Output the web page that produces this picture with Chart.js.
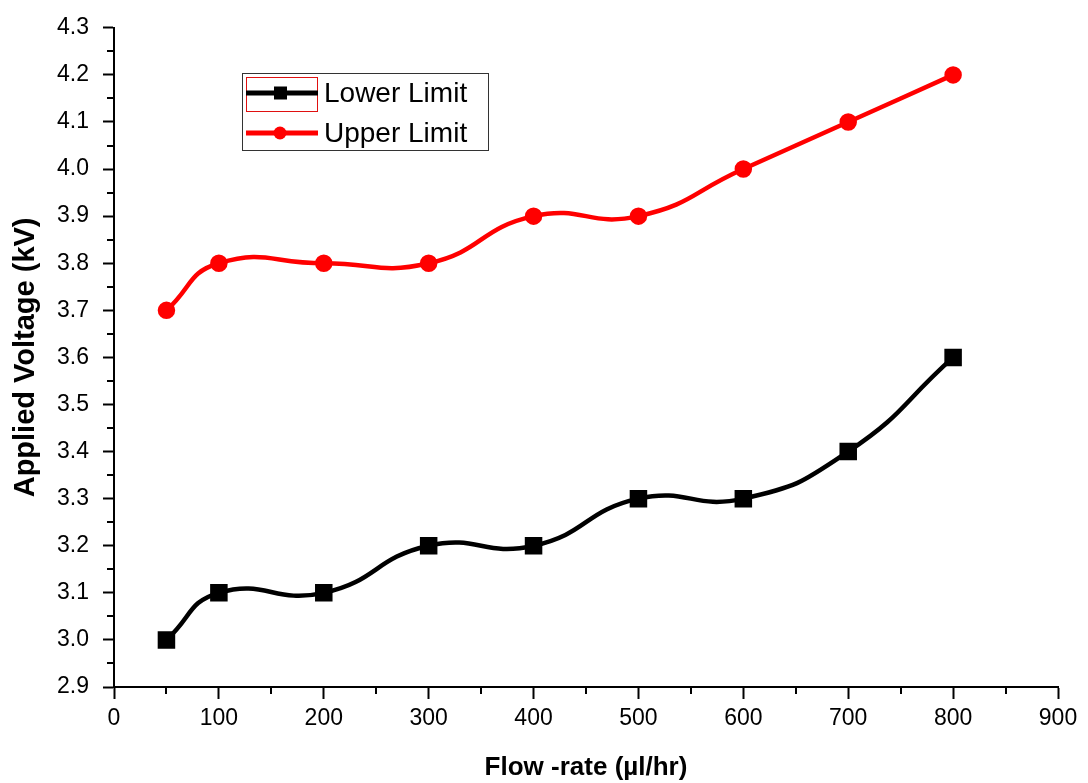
<!DOCTYPE html>
<html>
<head>
<meta charset="utf-8">
<script src="https://cdn.jsdelivr.net/npm/chart.js@4"></script>
<style>
  body { margin: 0; background: #fff; }
  #wrap { width: 1088px; height: 783px; }
</style>
</head>
<body>
<div id="wrap"><canvas id="voltageChart" width="1088" height="783"></canvas></div>
<script>
const flowRates = [50, 100, 200, 300, 400, 500, 600, 700, 800];
const lowerLimit = [3.0, 3.1, 3.1, 3.2, 3.2, 3.3, 3.3, 3.4, 3.6];
const upperLimit = [3.7, 3.8, 3.8, 3.8, 3.9, 3.9, 4.0, 4.1, 4.2];
const seriesNames = ["Lower Limit", "Upper Limit"];
const xTitle = "Flow -rate (µl/hr)";
const yTitle = "Applied Voltage (kV)";

const FONT = "Arial, 'Liberation Sans', sans-serif";

const pairs = (ys) => flowRates.map((x, i) => ({ x: x, y: ys[i] }));

// short minor ticks between the labelled ones
const minorTicks = {
  id: "minorTicks",
  afterDraw(chart) {
    const ctx = chart.ctx;
    const xs = chart.scales.x, ys = chart.scales.y;
    ctx.save();
    ctx.strokeStyle = "#000";
    ctx.lineWidth = 2;
    for (let v = 50; v < 900; v += 100) {
      const px = Math.round(xs.getPixelForValue(v));
      ctx.beginPath();
      ctx.moveTo(px, xs.top);
      ctx.lineTo(px, xs.top + 7);
      ctx.stroke();
    }
    for (let v = 2.95; v < 4.3; v += 0.1) {
      const py = Math.round(ys.getPixelForValue(v));
      ctx.beginPath();
      ctx.moveTo(ys.right, py);
      ctx.lineTo(ys.right - 7, py);
      ctx.stroke();
    }
    ctx.restore();
  },
};

// legend box drawn inside the plot, like the original figure
const boxLegend = {
  id: "boxLegend",
  afterDraw(chart) {
    const ctx = chart.ctx;
    const sets = chart.data.datasets;
    ctx.save();
    ctx.strokeStyle = "#333";
    ctx.lineWidth = 1;
    ctx.strokeRect(242.5, 73.5, 246, 77);
    ctx.strokeStyle = "#e01010";
    ctx.strokeRect(246.5, 77.5, 71, 34);
    const rows = [93, 133];
    sets.forEach((ds, i) => {
      const y = rows[i];
      ctx.strokeStyle = ds.borderColor;
      ctx.lineWidth = 5;
      ctx.beginPath();
      ctx.moveTo(246, y);
      ctx.lineTo(318, y);
      ctx.stroke();
      ctx.fillStyle = ds.backgroundColor;
      if (ds.pointStyle === "rect") {
        ctx.fillRect(274, y - 6.5, 13, 13);
      } else {
        ctx.beginPath();
        ctx.arc(280, y, 6.5, 0, Math.PI * 2);
        ctx.fill();
      }
      ctx.fillStyle = "#000";
      ctx.font = "28px " + FONT;
      ctx.textBaseline = "middle";
      ctx.fillText(ds.label, 324, y + 1);
    });
    ctx.restore();
  },
};

document.addEventListener("DOMContentLoaded", () => {
  const ctx = document.getElementById("voltageChart").getContext("2d");
  new Chart(ctx, {
    type: "line",
    data: {
      datasets: [
        {
          label: seriesNames[0],
          data: pairs(lowerLimit),
          borderColor: "#000000",
          backgroundColor: "#000000",
          borderWidth: 4.5,
          pointStyle: "rect",
          pointRadius: 9.2,
          tension: 0.5,
        },
        {
          label: seriesNames[1],
          data: pairs(upperLimit),
          borderColor: "#ff0000",
          backgroundColor: "#ff0000",
          borderWidth: 4.5,
          pointStyle: "circle",
          pointRadius: 6.5,
          tension: 0.5,
        },
      ],
    },
    options: {
      responsive: false,
      animation: false,
      clip: false,
      layout: { padding: { top: 22, right: 30, bottom: 0, left: 0 } },
      plugins: {
        legend: { display: false },
        tooltip: { enabled: false },
      },
      scales: {
        x: {
          type: "linear",
          min: 0,
          max: 900,
          ticks: {
            stepSize: 100,
            color: "#000",
            font: { family: FONT, size: 23 },
            padding: 6,
            maxRotation: 0,
          },
          grid: {
            drawOnChartArea: false,
            tickColor: "#000",
            tickWidth: 2,
            tickLength: 12,
          },
          border: { color: "#000", width: 2 },
          title: {
            display: true,
            text: xTitle,
            color: "#000",
            font: { family: FONT, size: 26, weight: "bold" },
            padding: { top: 0, bottom: 0 },
          },
          afterFit: (scale) => { scale.height = 96; },
        },
        y: {
          min: 2.9,
          max: 4.3,
          ticks: {
            stepSize: 0.1,
            color: "#000",
            font: { family: FONT, size: 23 },
            padding: 14,
            callback: (v) => Number(v).toFixed(1),
          },
          grid: {
            drawOnChartArea: false,
            tickColor: "#000",
            tickWidth: 2,
            tickLength: 11,
          },
          border: { color: "#000", width: 2 },
          title: {
            display: true,
            text: yTitle,
            color: "#000",
            font: { family: FONT, size: 29, weight: "bold" },
            padding: { top: 9, bottom: 0 },
          },
          afterFit: (scale) => { scale.width = 114; },
        },
      },
    },
    plugins: [minorTicks, boxLegend],
  });
});
</script>
</body>
</html>
